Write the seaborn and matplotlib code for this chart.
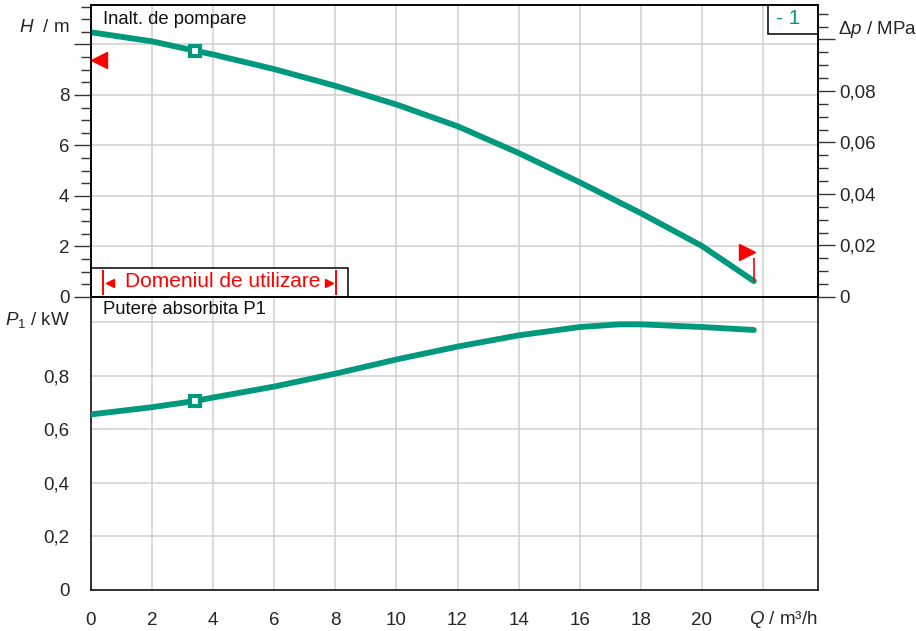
import numpy as np
import pandas as pd
import matplotlib
matplotlib.use("Agg")
import matplotlib.pyplot as plt
import seaborn as sns
from matplotlib.ticker import MultipleLocator, FuncFormatter
from matplotlib.patches import Rectangle

# ---------------- data ----------------
q_head = [0, 2, 3.4, 4, 6, 8, 10, 12, 14, 16, 18, 20, 21.7]
head_m = [10.48, 10.12, 9.75, 9.60, 9.02, 8.36, 7.62, 6.76, 5.70, 4.54, 3.32, 2.02, 0.63]

q_power = [0, 2, 3.4, 4, 6, 8, 10, 12, 14, 16, 17.3, 18, 20, 21.7]
power_kw = [0.655, 0.682, 0.705, 0.718, 0.759, 0.807, 0.860, 0.908, 0.950,
            0.981, 0.991, 0.991, 0.981, 0.970]

duty_q = [3.4]
duty_head = [9.75]
duty_power = [0.705]

min_mark_q = [0.26]
min_mark_h = [9.37]
max_mark_q = [21.46]
max_mark_h = [1.80]
max_line_q = [21.72, 21.72]
max_line_h = [1.53, 0.65]

x_tick_labels_skip = [22]
title_head = "Inalt. de pompare"
title_power = "Putere absorbita P1"
range_label = "Domeniul de utilizare"
curve_label = "- 1"

TEAL = "#00997D"
RED = "#FF0000"
GRID = "#CFCFCF"

# ---------------- style ----------------
sns.set_style("white")
plt.rcParams["font.family"] = ["Liberation Sans", "DejaVu Sans"]
plt.rcParams["mathtext.fontset"] = "custom"
plt.rcParams["mathtext.rm"] = "Liberation Sans"
plt.rcParams["mathtext.it"] = "Liberation Sans:italic"
plt.rcParams["lines.solid_capstyle"] = "round"
FS = 13.5

W, H = 916, 631
fig = plt.figure(figsize=(W / 100, H / 100), dpi=100)

def fx(x):
    return x / W

def fy(y):
    return 1 - y / H

left, right = fx(91), fx(818)
top, mid, bottom = fy(5), fy(297), fy(590)
ax_h = fig.add_axes([left, mid, right - left, top - mid])
ax_p = fig.add_axes([left, bottom, right - left, mid - bottom], sharex=ax_h)

XMAX = 23.8
HMAX = 11.56
PMAX = 1.093
MPA_PER_M = 0.00980665

def comma_fmt(skip):
    def f(v, pos):
        if any(abs(v - s) < 1e-9 for s in skip):
            return ""
        return f"{v:g}".replace(".", ",")
    return FuncFormatter(f)

def style_ticks(ax):
    ax.tick_params(which="major", direction="out", length=12, width=1.0,
                   color="#333333", labelsize=FS, pad=3.5)
    ax.tick_params(which="minor", direction="out", length=7.5, width=1.0,
                   color="#333333")
    for s in ax.spines.values():
        s.set_color("black")
        s.set_linewidth(1.1)

for ax in (ax_h, ax_p):
    ax.set_axisbelow(True)
    ax.grid(True, which="major", color=GRID, linewidth=1.1)
    style_ticks(ax)

ax_h.set_xlim(0, XMAX)
ax_h.set_ylim(0, HMAX)
ax_p.set_ylim(0, PMAX)

ax_p.xaxis.set_major_locator(MultipleLocator(2))
ax_p.xaxis.set_minor_locator(MultipleLocator(0.5))
ax_p.xaxis.set_major_formatter(comma_fmt(x_tick_labels_skip))
ax_h.tick_params(axis="x", which="both", length=0, labelbottom=False)

ax_h.yaxis.set_major_locator(MultipleLocator(2))
ax_h.yaxis.set_minor_locator(MultipleLocator(0.5))
ax_h.yaxis.set_major_formatter(comma_fmt([10]))

ax_p.yaxis.set_major_locator(MultipleLocator(0.2))
ax_p.yaxis.set_minor_locator(MultipleLocator(0.05))
ax_p.yaxis.set_major_formatter(comma_fmt([1.0]))

# right axis in MPa
ax_r = ax_h.twinx()
ax_r.set_ylim(0, HMAX * MPA_PER_M)
ax_r.yaxis.set_major_locator(MultipleLocator(0.02))
ax_r.yaxis.set_minor_locator(MultipleLocator(0.005))
ax_r.yaxis.set_major_formatter(comma_fmt([0.1]))
style_ticks(ax_r)

# ---------------- curves ----------------
df_h = pd.DataFrame({"Q": q_head, "H": head_m})
df_p = pd.DataFrame({"Q": q_power, "P": power_kw})
sns.lineplot(data=df_h, x="Q", y="H", ax=ax_h, color=TEAL, linewidth=4.2, zorder=4)
sns.lineplot(data=df_p, x="Q", y="P", ax=ax_p, color=TEAL, linewidth=4.2, zorder=4)
ax_h.plot(duty_q, duty_head, marker="s", ms=6.5, mew=3.0, mfc="white", mec=TEAL,
          linestyle="none", zorder=5)
ax_p.plot(duty_q, duty_power, marker="s", ms=6.5, mew=3.0, mfc="white", mec=TEAL,
          linestyle="none", zorder=5)

# red limit marks
ax_h.plot(min_mark_q, min_mark_h, marker="<", ms=11, color=RED, linestyle="none",
          zorder=6, clip_on=False)
ax_h.plot(max_mark_q, max_mark_h, marker=">", ms=11, color=RED, linestyle="none",
          zorder=6)
ax_h.plot(max_line_q, max_line_h, color=RED, linewidth=1.2, zorder=6,
          solid_capstyle="butt")

for ax in (ax_h, ax_p):
    ax.set_xlabel("")
    ax.set_ylabel("")

# ---------------- annotations ----------------
ax_h.text((103 - 91) / 727, (297 - 19) / 292, title_head, transform=ax_h.transAxes,
          fontsize=13.3, va="center", ha="left", color="#111111")
ax_p.text((103 - 91) / 727, (590 - 310) / 293, title_power, transform=ax_p.transAxes,
          fontsize=13.3, va="center", ha="left", color="#111111")

# operating range box
rx0, rx1 = 0.0, (348 - 91) / 727
ry0, ry1 = 0.0, (297 - 268) / 292
ax_h.add_patch(Rectangle((rx0, ry0), rx1 - rx0, ry1 - ry0, transform=ax_h.transAxes,
                         facecolor="white", edgecolor="black", linewidth=1.1,
                         zorder=3, clip_on=False))
for xb in [(103 - 91) / 727, (336 - 91) / 727]:
    ax_h.plot([xb, xb], [(297 - 295) / 292, (297 - 270) / 292], transform=ax_h.transAxes,
              color=RED, linewidth=1.4, zorder=4, solid_capstyle="butt")
ax_h.plot([(110 - 91) / 727], [(297 - 283) / 292], transform=ax_h.transAxes,
          marker="<", ms=6, color=RED, linestyle="none", zorder=4)
ax_h.plot([(329 - 91) / 727], [(297 - 283) / 292], transform=ax_h.transAxes,
          marker=">", ms=6, color=RED, linestyle="none", zorder=4)
ax_h.text((223 - 91) / 727, (297 - 282) / 292, range_label, transform=ax_h.transAxes,
          fontsize=15, color=RED, ha="center", va="center", zorder=4)

# curve label box
ax_h.add_patch(Rectangle(((768 - 91) / 727, (297 - 34) / 292), (818 - 768) / 727,
                         (34 - 5) / 292, transform=ax_h.transAxes, facecolor="white",
                         edgecolor="black", linewidth=1.1, zorder=3))
ax_h.text((776 - 91) / 727, (297 - 19) / 292, curve_label, transform=ax_h.transAxes,
          fontsize=15, color=TEAL, ha="left", va="center", zorder=4)

# axis unit labels
fig.text(fx(70), fy(28), "$H$  / m", fontsize=FS, ha="right", va="center")
fig.text(fx(838), fy(30), "$\\mathit{\\Delta p}$ / MPa", fontsize=FS, ha="left", va="center")
fig.text(fx(70), fy(320), "$P_1$ / kW", fontsize=FS, ha="right", va="center")
fig.text(fx(818), fy(620), "$Q$ / m³/h", fontsize=FS, ha="right", va="center")

fig.savefig("out.png", dpi=100)
